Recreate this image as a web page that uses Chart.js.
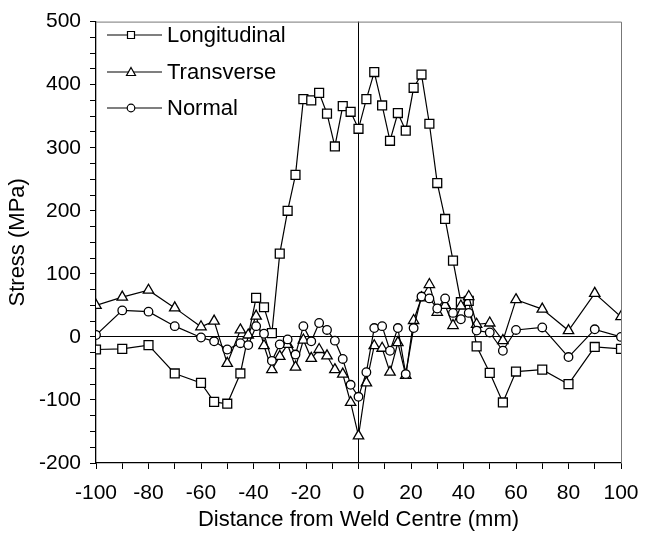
<!DOCTYPE html>
<html>
<head>
<meta charset="utf-8">
<script src="https://cdn.jsdelivr.net/npm/chart.js@4/dist/chart.umd.min.js"></script>
<style>
  html, body { margin: 0; padding: 0; background: #fff; }
  canvas { display: block; }
</style>
</head>
<body>
<canvas id="stressChart" width="655" height="533"></canvas>
<script>
// ===== Residual stress profile across the weld =====

// measurement positions (mm from weld centre)
const posLong = [-100, -90, -80, -70, -60, -55, -50, -45, -39, -36, -33, -30, -27, -24, -21, -18, -15, -12, -9, -6, -3,
  0, 3, 6, 9, 12, 15, 18, 21, 24, 27, 30, 33, 36, 39, 42, 45, 50, 55, 60, 70, 80, 90, 100];
const posAll = [-100, -90, -80, -70, -60, -55, -50, -45, -42, -39, -36, -33, -30, -27, -24, -21, -18, -15, -12, -9, -6, -3,
  0, 3, 6, 9, 12, 15, 18, 21, 24, 27, 30, 33, 36, 39, 42, 45, 50, 55, 60, 70, 80, 90, 100];

// stresses (MPa)
const longitudinal = [-20, -19, -13, -58, -73, -103, -106, -58, 62, 47, 6, 132, 200, 257, 377, 375, 387, 354, 302, 366, 357,
  330, 377, 420, 367, 311, 355, 327, 395, 416, 338, 244, 187, 121, 55, 57, -15, -57, -104, -55, -52, -75, -16, -19];
const transverse = [50, 63, 74, 46, 16, 25, -42, 11, 3, 33, -14, -52, -31, -12, -48, -5, -34, -20, -30, -52, -59, -104,
  -157, -73, -14, -18, -56, -9, -61, 26, 62, 83, 39, 50, 18, 49, 64, 20, 22, -6, 59, 44, 10, 69, 32];
const normal = [3, 42, 40, 17, -1, -7, -20, -10, -13, 17, 5, -38, -12, -4, -28, 17, -7, 22, 11, -6, -35, -76,
  -95, -56, 14, 17, -22, 14, -59, 14, 64, 61, 45, 61, 38, 28, 38, 10, 7, -22, 11, 15, -32, 12, 0];

const seriesNames = ["Longitudinal", "Transverse", "Normal"];
const xTicksMajor = [-100, -80, -60, -40, -20, 0, 20, 40, 60, 80, 100];
const yTicksMajor = [-200, -100, 0, 100, 200, 300, 400, 500];

const FONT = "'Liberation Sans', Arial, sans-serif";

function pts(xs, ys) {
  return xs.map((x, i) => ({ x, y: ys[i] }));
}

function series(label, data, style, radius, order) {
  return {
    label, data, order,
    showLine: true,
    borderColor: "#000",
    borderWidth: 1.2,
    backgroundColor: "#fff",
    pointStyle: style,
    pointRadius: radius,
    pointBorderWidth: 1.3,
    pointBorderColor: "#000",
    pointBackgroundColor: "#fff",
  };
}

// box on top/right + line-and-marker legend
const extras = {
  id: "extras",
  afterDraw(chart) {
    const { ctx, chartArea: a } = chart;
    ctx.save();
    ctx.strokeStyle = "#777";
    ctx.lineWidth = 1;
    ctx.beginPath();
    ctx.moveTo(a.left, a.top + 0.5);
    ctx.lineTo(a.right + 0.5, a.top + 0.5);
    ctx.lineTo(a.right + 0.5, a.bottom);
    ctx.stroke();

    const styles = ["rect", "triangle", "circle"];
    const rows = [35, 72, 108];
    ctx.font = "22px " + FONT;
    ctx.textBaseline = "middle";
    ctx.fillStyle = "#000";
    styles.forEach((st, i) => {
      const y = rows[i];
      ctx.strokeStyle = "#000";
      ctx.lineWidth = 1.2;
      ctx.beginPath();
      ctx.moveTo(107, y);
      ctx.lineTo(162, y);
      ctx.stroke();
      ctx.lineWidth = 1.2;
      ctx.fillStyle = "#fff";
      ctx.beginPath();
      if (st === "rect") {
        ctx.rect(131 - 3.5, y - 3.5, 7, 7);
      } else if (st === "triangle") {
        ctx.moveTo(131, y - 4.5);
        ctx.lineTo(135.5, y + 3.5);
        ctx.lineTo(126.5, y + 3.5);
        ctx.closePath();
      } else {
        ctx.arc(131, y, 3.8, 0, Math.PI * 2);
      }
      ctx.fill();
      ctx.stroke();
      ctx.fillStyle = "#000";
      ctx.fillText(seriesNames[i], 167, y + 1);
    });
    ctx.restore();
  }
};

const zeroLine = (c) => (c.tick && c.tick.value === 0 ? "#000" : "rgba(0,0,0,0)");

const chart = new Chart(document.getElementById("stressChart"), {
  type: "scatter",
  data: {
    datasets: [
      series(seriesNames[0], pts(posLong, longitudinal), "rect", 6.3, 2),
      series(seriesNames[1], pts(posAll, transverse), "triangle", 6, 1),
      series(seriesNames[2], pts(posAll, normal), "circle", 4.3, 0),
    ],
  },
  options: {
    responsive: false,
    animation: false,
    layout: { padding: { left: 0, right: 34, top: 13, bottom: 0 } },
    plugins: { legend: { display: false }, tooltip: { enabled: false } },
    scales: {
      x: {
        type: "linear",
        min: -100, max: 100,
        afterFit: (s) => { s.height = 70; },
        afterBuildTicks: (s) => {
          s.ticks = [];
          for (let v = -100; v <= 100; v += 10) s.ticks.push({ value: v });
        },
        ticks: {
          autoSkip: false,
          maxRotation: 0,
          padding: 12,
          color: "#000",
          font: { family: FONT, size: 21 },
          callback: (v) => (xTicksMajor.includes(v) ? String(v) : ""),
        },
        grid: { color: zeroLine, tickColor: "#000", tickLength: 6, lineWidth: 1 },
        border: { color: "#000", width: 1.3 },
        title: {
          display: true,
          text: "Distance from Weld Centre (mm)",
          color: "#000",
          font: { family: FONT, size: 22 },
          padding: { top: 0, bottom: 0 },
        },
      },
      y: {
        type: "linear",
        min: -200, max: 500,
        afterFit: (s) => { s.width = 96; },
        afterBuildTicks: (s) => {
          s.ticks = [];
          for (let v = -200; v <= 500; v += 25) s.ticks.push({ value: v });
        },
        ticks: {
          autoSkip: false,
          padding: 9,
          color: "#000",
          font: { family: FONT, size: 21 },
          callback: (v) => (yTicksMajor.includes(v) ? String(v) : ""),
        },
        grid: { color: zeroLine, tickColor: "#000", tickLength: 6, lineWidth: 1 },
        border: { color: "#000", width: 1.3 },
        title: {
          display: true,
          text: "Stress (MPa)",
          color: "#000",
          font: { family: FONT, size: 22 },
          padding: { top: 5, bottom: 0 },
        },
      },
    },
  },
  plugins: [extras],
});
</script>
</body>
</html>
